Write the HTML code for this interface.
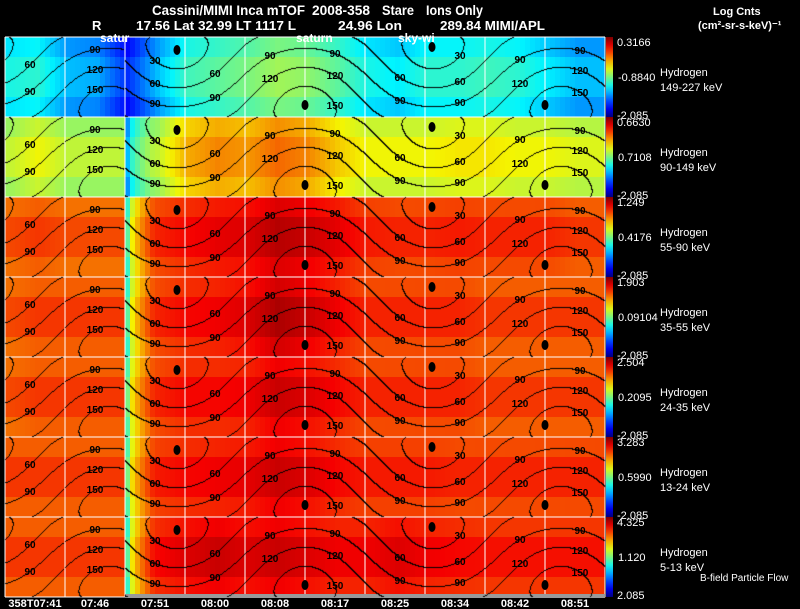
<!DOCTYPE html>
<html><head><meta charset="utf-8"><style>
body{margin:0;background:#000;width:800px;height:609px;overflow:hidden;font-family:"Liberation Sans",sans-serif;position:relative;}
svg text{font-family:"Liberation Sans",sans-serif;}
#chart{position:absolute;left:0;top:0;}
#cont{position:absolute;left:0;top:0;pointer-events:none;}
#over{position:absolute;left:0;top:0;}
</style></head><body>
<svg id="chart" width="800" height="609" xmlns="http://www.w3.org/2000/svg">
<rect width="800" height="609" fill="#000"/>
<g id="header" fill="#fff" font-weight="bold">
<text x="152" y="15" font-size="14" textLength="153" lengthAdjust="spacingAndGlyphs">Cassini/MIMI Inca mTOF</text>
<text x="312" y="15" font-size="14" textLength="58" lengthAdjust="spacingAndGlyphs">2008-358</text>
<text x="382" y="15" font-size="14" textLength="32" lengthAdjust="spacingAndGlyphs">Stare</text>
<text x="426" y="15" font-size="14" textLength="57" lengthAdjust="spacingAndGlyphs">Ions Only</text>
<text x="92" y="30" font-size="13">R</text>
<text x="136" y="30" font-size="13" textLength="160" lengthAdjust="spacingAndGlyphs">17.56 Lat 32.99 LT 1117 L</text>
<text x="338" y="30" font-size="13" textLength="64" lengthAdjust="spacingAndGlyphs">24.96 Lon</text>
<text x="440" y="30" font-size="13" textLength="105" lengthAdjust="spacingAndGlyphs">289.84  MIMI/APL</text>
<text x="713" y="15" font-size="11">Log Cnts</text>
<text x="698" y="29" font-size="11">(cm²-sr-s-keV)⁻¹</text>
</g>
<g id="cells"></g>
<g id="grid" stroke="#fff" stroke-width="1"></g>
<g id="bars"></g>
<g id="rlabels" fill="#fff" font-size="11"></g>
<g id="xlabels" fill="#fff" font-size="11" font-weight="bold"></g>
<rect x="125" y="594" width="480" height="4" fill="#999"/>
</svg>
<canvas id="cont" width="800" height="609"></canvas>
<svg id="over" width="800" height="609" xmlns="http://www.w3.org/2000/svg">
<g id="clabels" fill="#000" font-size="10" font-weight="bold"></g>
<g id="markers"></g>
<g fill="#fff" font-size="12" font-weight="bold">
<text x="100" y="42">satur</text>
<text x="296" y="42">saturn</text>
<text x="398" y="42">sky-wi</text>
<text x="700" y="581" font-size="10" font-weight="normal">B-field Particle Flow</text>
</g>
</svg>
<script>
const rowValues = [
[0.38,0.40,0.30,0.28,0.15,0.30,0.42,0.45,0.48,0.52,0.50,0.45,0.38,0.35,0.40,0.40,0.42,0.40,0.35,0.30],
[0.55,0.60,0.55,0.55,0.30,0.55,0.68,0.72,0.70,0.75,0.72,0.65,0.60,0.60,0.60,0.62,0.62,0.60,0.60,0.58],
[0.78,0.80,0.78,0.78,0.45,0.82,0.85,0.87,0.88,0.92,0.90,0.87,0.83,0.82,0.82,0.83,0.82,0.82,0.82,0.80],
[0.78,0.80,0.80,0.80,0.45,0.82,0.85,0.86,0.88,0.93,0.90,0.86,0.82,0.82,0.82,0.82,0.80,0.80,0.80,0.80],
[0.78,0.80,0.80,0.80,0.48,0.82,0.85,0.85,0.86,0.90,0.88,0.85,0.82,0.82,0.82,0.82,0.80,0.80,0.80,0.80],
[0.80,0.80,0.80,0.80,0.48,0.83,0.85,0.86,0.87,0.90,0.88,0.85,0.83,0.83,0.83,0.82,0.82,0.82,0.82,0.82],
[0.80,0.80,0.80,0.80,0.45,0.85,0.88,0.90,0.88,0.90,0.88,0.86,0.86,0.88,0.86,0.85,0.84,0.84,0.84,0.84]
];
const barTop = ["0.3166","0.6630","1.249","1.903","2.504","3.283","4.325"];
const barMid = ["-0.8840","0.7108","0.4176","0.09104","0.2095","0.5990","1.120"];
const barBot = ["-2.085","-2.085","-2.085","-2.085","-2.085","-2.085","2.085"];
const energies = ["149-227 keV","90-149 keV","55-90 keV","35-55 keV","24-35 keV","13-24 keV","5-13 keV"];
const timeLabels = ["358T07:41","07:46","07:51","08:00","08:08","08:17","08:25","08:34","08:42","08:51"];
const contourLevels = [30,60,90,120,150];

const NS="http://www.w3.org/2000/svg";
const X0=5, W=600, Y0=37, RH=80;
function xs(i){return X0+i*30;}
function ys(r){return Y0+r*RH;}
function jet(v){v=Math.max(0,Math.min(1,v));
 const f=(x)=>Math.max(0,Math.min(1,1.5-Math.abs(4*v-x)));
 return `rgb(${Math.round(245*f(3))},${Math.round(245*f(2))},${Math.round(255*f(1))})`;}
function mk(tag,attrs,parent){const e=document.createElementNS(NS,tag);for(const k in attrs)e.setAttribute(k,attrs[k]);parent.appendChild(e);return e;}
const cells=document.getElementById('cells');
rowValues.forEach((vals,r)=>{
 for(let c=0;c<vals.length;c++){
  const nxt=c+1<vals.length?vals[c+1]:vals[c];
  const diff=nxt-vals[c];
  for(let s=0;s<6;s++){
   let t=s/6;
   if(diff<-0.2) t=0;
   else if(diff>0.2) t=Math.min(1,Math.sqrt(t)*1.05);
   const v=vals[c]*(1-t)+nxt*t;
   for(let k=0;k<4;k++){
    const dv=(k===0||k===3)?-0.02:0.02;
    const e=mk('rect',{x:xs(c)+s*5,y:ys(r)+k*20,width:5.5,height:20.5,fill:jet(v+dv)},cells);
    
    
   }
  }
 }
});
// view geometry: angular distance from field direction
const MX=177, D2R=Math.PI/180, KY=0.63, KX=256/360;
function ang(x,yrel){
 let xx=x; if(x<125) xx=x+195;
 const lon=(xx-MX)/KX*D2R, lat=((40.5-yrel)/KY)*D2R, lat0=(27.5/KY)*D2R;
 const c=Math.sin(lat)*Math.sin(lat0)+Math.cos(lat)*Math.cos(lat0)*Math.cos(lon);
 return Math.acos(Math.max(-1,Math.min(1,c)))/D2R;
}
const ctx=document.getElementById('cont').getContext('2d');
ctx.fillStyle='#000';
function band(a){let b=0;for(const l of contourLevels)if(a>=l)b++;return b;}
for(let r=0;r<7;r++){
 const top=ys(r);
 for(let x=5;x<605;x++){
  if(x===64||x===124) continue;
  for(let y=0;y<80;y++){
   const b=band(ang(x,y));
   if(b!==band(ang(x+1,y))||b!==band(ang(x,y+1))) ctx.fillRect(x,top+y,1,1);
  }
 }
}
// labels & markers
const cl=document.getElementById('clabels'), mg=document.getElementById('markers');
const labelXs=[30,95,155,215,270,335,400,460,520,580];
for(let r=0;r<7;r++){
 const top=ys(r);
 labelXs.forEach((x,i)=>{
  let last=-20;
  contourLevels.forEach((lv)=>{
   for(let y=4;y<76;y++){
    if((ang(x,y)-lv)*(ang(x,y+1)-lv)<=0){
     if(Math.abs(y-last)<14) break;
     last=y;
     const t=mk('text',{x:x,y:top+y+4,'text-anchor':'middle'},cl);t.textContent=lv;
     
     
     break;
    }
   }
  });
 });
 [[177,13],[305,68],[432,10],[545,68]].forEach(([cx,cy])=>{
  const c=mk('ellipse',{cx:cx,cy:top+cy,rx:3.5,ry:5,fill:'#000'},mg);
  
  
 });
}
// grid
const g=document.getElementById('grid');
for(let i=0;i<=10;i++){const e=mk('line',{x1:X0+i*60,y1:Y0,x2:X0+i*60,y2:ys(7)},g);
 }
for(let r=0;r<=7;r++){const e=mk('line',{x1:X0,y1:ys(r),x2:605,y2:ys(r)},g);
 }
// colorbars & labels
const defs=mk('defs',{},document.getElementById('chart'));
const lg=mk('linearGradient',{id:'jetg',x1:0,y1:1,x2:0,y2:0},defs);
for(let i=0;i<=10;i++)mk('stop',{offset:i/10,'stop-color':jet(i/10)},lg);
const bars=document.getElementById('bars'), rl=document.getElementById('rlabels');
for(let r=0;r<7;r++){
 const top=ys(r);
 const b=mk('rect',{x:606,y:top,width:7,height:RH,fill:'url(#jetg)'},bars);
 
 
 const t1=mk('text',{x:617,y:top+9},rl);t1.textContent=barTop[r];
 
 const t2=mk('text',{x:618,y:top+44},rl);t2.textContent=barMid[r];
 
 const t3=mk('text',{x:617,y:top+RH+2},rl);t3.textContent=barBot[r];
 
 const h=mk('text',{x:660,y:top+39},rl);h.textContent="Hydrogen";
 
 const en=mk('text',{x:660,y:top+54},rl);en.textContent=energies[r];
 
}
const xl=document.getElementById('xlabels');
timeLabels.forEach((s,i)=>{const t=mk('text',{x:X0+i*60+30,y:607,'text-anchor':'middle'},xl);t.textContent=s;
 });
</script>
</body></html>
